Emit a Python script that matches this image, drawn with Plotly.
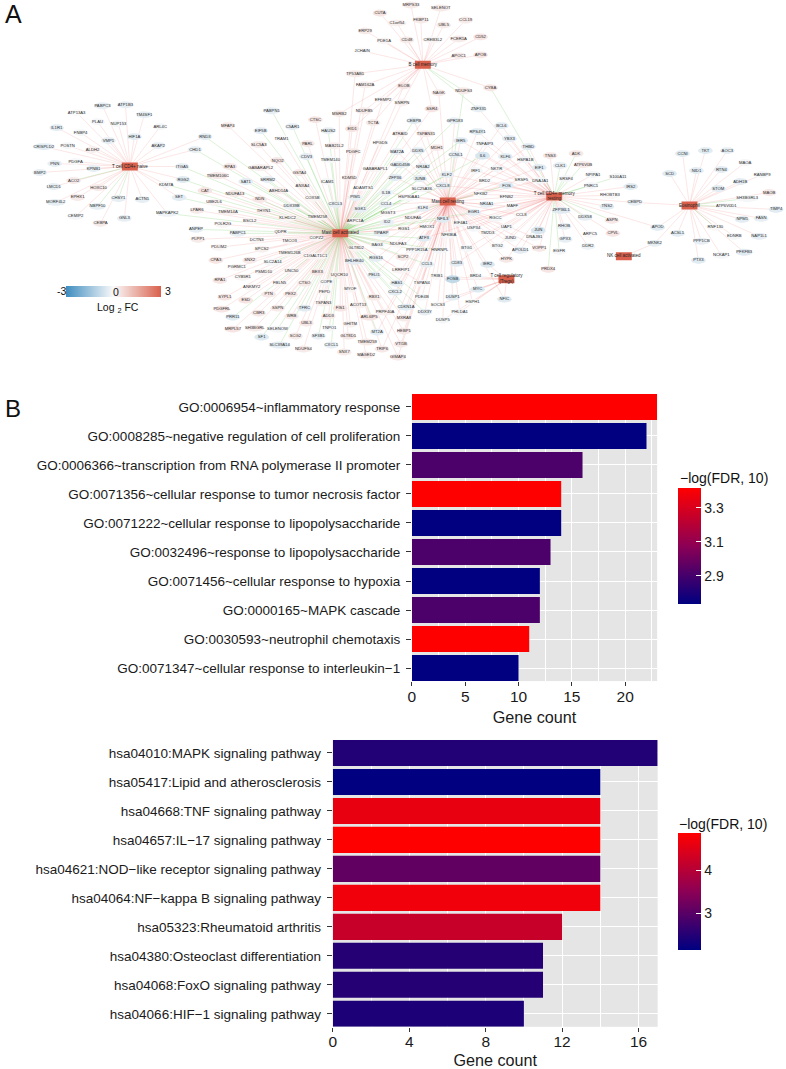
import numpy as np
import plotly.graph_objects as go
from plotly.colors import sample_colorscale

W, H = 786, 1069
FONT = 'Liberation Sans'

# ---------- panel A: network, positions ----------
hub_names = ['B cell memory', 'T cell CD4+ naive', 'Mast cell activated', 'Mast cell resting',
             'T cell CD4+ memory<br>resting', 'Eosinophil', 'NK cell activated', 'T cell regulatory<br>(Tregs)']
hub_keys = ['B', 'N', 'A', 'R', 'M', 'E', 'K', 'T']
hub_x = [421, 126.5, 338, 446, 553, 689, 623, 505]
hub_y = [65, 167, 234, 202, 197, 206, 257, 280]

naive_genes = ['PABPC3', 'ATP1B3', 'ATP13A3', 'TM4SF1', 'PLAU', 'NUP153', 'ARL4C', 'IL1R1', 'HIF1A', 'FNBP4',
               'VMP1', 'POSTN', 'CRISPLD2', 'ALDH2', 'AKAP2', 'PNN', 'PDGFA', 'KPNB1', 'BMP2', 'ACO2',
               'LMCD1', 'HOXC10', 'EPHX1', 'CHSY1', 'ACTN1', 'MORF4L2', 'NBPF10', 'CEMIP2', 'CEBPA', 'GNL3',
               'ITGA5', 'RGS2', 'KDM7A', 'SET', 'MAPKAPK2', 'RND3', 'CHD1']
naive_x = [99, 122, 73, 141, 94, 115, 157, 53, 131, 77,
           105, 64, 40, 89, 155, 51, 72, 90, 36, 70,
           50, 95, 74, 115, 139, 52, 94, 72, 97, 121,
           179, 180, 163, 176, 164, 202, 192]
naive_y = [106, 105, 113, 115, 122, 124, 127, 128, 137, 133,
           141, 146, 147, 150, 146, 164, 162, 169, 173, 181,
           187, 188, 198, 199, 200, 203, 207, 217, 224, 219,
           167, 180, 185, 198, 214, 137, 150]
naive_fc = [-.3, -.3, 0, -.3, -.1, -.1, -.1, -.35, -.35, -.1,
            -.3, -.1, -.35, .2, -.3, -.3, -.05, -.3, -.3, .3,
            -.3, .3, .3, -.3, -.3, -.3, -.3, -.1, .3, -.3,
            -.3, -.4, -.1, -.35, -.2, -.4, -.3]

bcell_genes = ['MRPS33', 'SELENOT', 'CUTA', 'C1orf54', 'FKBP11', 'UBL5', 'CCL19', 'ERP29', 'PDE1A', 'CD48',
               'CREB3L2', 'FCER1A', 'CD52', 'JCHAIN', 'APOC1', 'APOB', 'TP53AB1', 'FAM162A', 'ELOB', 'NAGK',
               'NDUFS3', 'CYBA', 'EFEMP2', 'SNRPN', 'SSR4', 'NDUFB5', 'MSRB2']
bcell_x = [409, 439, 378, 395, 419, 442, 464, 363, 382, 405,
           431, 457, 479, 360, 457, 479, 353, 363, 402, 437,
           462, 489, 381, 400, 430, 362, 337]
bcell_y = [5, 8, 13, 23, 20, 25, 20, 31, 41, 40,
           40, 39, 37, 51, 56, 55, 74, 85, 86, 93,
           91, 88, 100, 103, 109, 111, 114]
bcell_fc = [.3, .3, .4, .2, .3, .3, .3, .3, .1, .3,
            .1, .3, .4, 0, .3, .4, .3, .2, .4, .3,
            .3, .4, .1, .2, .4, .3, .3]

activated_genes = ['C5AR1', 'PABPN1', 'TRAM1', 'MFAP4', 'EIF5B', 'SLC5A3', 'CTSC', 'HAUS2', 'PARL', 'MAB21L2',
                   'HPGDS', 'PDGFC', 'NQO2', 'CDV3', 'TMEM140', 'RPA3', 'GABARAPL2', 'GSTA4', 'KDM5D', 'GABARAPL1',
                   'TMEM106C', 'SAT1', 'SRRM2', 'ICAM1', 'ANXA4', 'CAT', 'NDUFA13', 'ABHD14A', 'ADAMTS1', 'PIM1',
                   'COX5B', 'NDN', 'UBE2L6', 'DDX39B', 'CXCL3', 'THYN1', 'TMEM14A', 'LPAR6', 'BSCL2', 'KLHDC2',
                   'TMEM258', 'ARPC1A', 'POLR2G', 'ANPEP', 'PABPC1', 'QDPR', 'PLPP1', 'DCTN3', 'TMCO3', 'COPZ2',
                   'GLT8D2', 'PDLIM2', 'SPCS2', 'TMEM126B', 'C1GALT1C1', 'BHLHE40', 'CPA3', 'SNX2', 'SLC2A14', 'PGRMC1',
                   'PSMD10', 'UNC50', 'BEX3', 'UQCR10', 'RPA1', 'CYB5R1', 'FBLN5', 'CTSO', 'COPE', 'ANKMY2',
                   'MYOF', 'PTN', 'PEX2', 'PEPD', 'SYPL1', 'ESD', 'RBX1', 'TSPAN3', 'ACOT13', 'PDGFRL',
                   'SSPN', 'FIS1', 'TFRC', 'CBR3', 'WRB', 'ADD3', 'ARL6IP5', 'PRR11', 'MRPL57', 'SH3BGRL',
                   'SELENOW', 'UBL3', 'GHITM', 'TNPO1', 'SF1', 'SCG2', 'SF3B1', 'GLT8D1', 'TMEM259', 'SLC39A14',
                   'CXCL1', 'NDUFS4', 'SNX7', 'MAGED2', 'EID1', 'TCTA', 'SGK1']
activated_x = [290, 269, 279, 225, 258, 256, 313, 326, 305, 332,
               378, 351, 275, 304, 328, 227, 258, 297, 347, 373,
               215, 243, 265, 325, 300, 202, 232, 276, 361, 353,
               310, 257, 211, 289, 333, 261, 225, 194, 247, 285,
               315, 353, 220, 193, 235, 278, 195, 254, 287, 314,
               354, 216, 259, 287, 313, 352, 213, 247, 270, 234,
               261, 289, 315, 337, 217, 240, 277, 302, 324, 249,
               348, 266, 288, 322, 222, 243, 372, 321, 356, 219,
               275, 338, 302, 256, 289, 326, 367, 230, 230, 252,
               275, 304, 348, 327, 259, 293, 316, 346, 365, 277,
               329, 301, 342, 364, 350, 371, 358]
activated_y = [127, 111, 139, 126, 131, 145, 120, 131, 144, 146,
               143, 152, 161, 157, 160, 167, 168, 173, 178, 169,
               176, 182, 180, 182, 186, 191, 194, 191, 188, 198,
               199, 200, 203, 207, 205, 212, 213, 211, 222, 219,
               218, 222, 225, 230, 234, 233, 240, 241, 242, 239,
               249, 248, 250, 254, 257, 262, 261, 261, 263, 268,
               273, 272, 273, 276, 281, 278, 284, 284, 283, 288,
               290, 295, 295, 293, 298, 301, 298, 304, 306, 310,
               309, 309, 309, 314, 317, 317, 318, 318, 330, 329,
               330, 324, 325, 329, 338, 337, 337, 337, 343, 346,
               346, 350, 353, 356, 129, 123, 210]
activated_fc = [-.3, -.3, 0, .3, -.35, .3, .4, -.3, .35, .2,
                .1, .3, .35, -.35, -.05, .35, .2, .3, .3, .1,
                .35, -.35, -.3, -.1, .2, .4, .3, .2, 0, -.25,
                .1, .35, .1, -.2, -.3, .2, .2, .3, .1, .1,
                .1, .1, .1, -.3, -.3, .1, .3, .1, .1, .1,
                .1, .1, .2, .1, .1, -.35, .4, .3, -.1, .1,
                .1, .1, .35, .2, .4, .1, .1, .3, -.1, .1,
                .1, .35, .35, .1, .4, .4, .3, .2, .2, .4,
                .3, .4, -.4, .35, .3, .3, .4, -.4, .4, .3,
                -.1, .35, .2, -.1, -.45, .3, -.3, .35, .3, -.35,
                -.3, .3, .3, .3, .4, .3, -.3]

shared_genes = ['IL1B', 'CCL4', 'MGST3', 'ID2', 'TIPARP', 'BAG3', 'RGS16', 'PELI1', 'HSP90AA1', 'KLF4',
                'SLC25A36', 'NDUFA6', 'RGS1', 'HMOX1', 'NDUFA3', 'PPP1R15A', 'HNRNPL', 'SCP2', 'CCL3', 'LRRFIP1',
                'TSPAN4', 'HAS1', 'CXCL2', 'CDKN1A', 'DDX3Y', 'MXRA8', 'PRPF40A', 'MT2A', 'TRIP6', 'HEBP1',
                'VTI1B', 'GIMAP4', 'PDE4B', 'ATRAID', 'TSPAN31', 'MAT2A', 'DDX5', 'GADD45B', 'ZFP36', 'JUNB',
                'NR4A2', 'MDH1', 'CEBPB', 'GPR183']
shared_x = [384, 384, 386, 385, 379, 375, 374, 372, 407, 421,
            420, 411, 402, 425, 396, 415, 438, 401, 425, 399,
            420, 395, 393, 404, 423, 402, 383, 375, 380, 402,
            399, 396, 420, 398, 424, 395, 416, 398, 393, 418,
            421, 435, 412, 453]
shared_y = [193, 205, 214, 223, 234, 246, 259, 276, 198, 209,
            189, 219, 230, 228, 245, 251, 251, 258, 265, 271,
            284, 284, 293, 308, 313, 319, 313, 333, 350, 332,
            345, 358, 298, 134, 134, 152, 151, 165, 178, 179,
            167, 148, 121, 121]
shared_fc = [-.2, -.25, .05, -.25, -.3, -.1, -.35, -.3, -.05, -.3,
             -.1, .1, .1, .05, .1, -.1, -.1, .3, -.3, .1,
             .05, -.35, -.35, -.35, -.3, .3, .2, -.35, .35, .35,
             .35, .35, -.1, .2, .3, -.3, -.35, -.4, -.4, -.35,
             -.3, .3, -.4, -.3]

triple_genes = ['CXCL8', 'KLF2', 'CCNL1', 'IER5', 'NFIL3', 'ATF3', 'EGR1', 'IL6', 'FOS']
triple_x = [441, 445, 454, 459, 441, 422, 472, 481, 505]
triple_y = [186, 175, 155, 141, 220, 239, 213, 156, 186]
triple_fc = [-.35, -.3, -.35, -.4, -.4, -.4, -.35, -.55, -.45]

both_genes = ['RPS4Y1', 'TNFAIP3', 'BCL6', 'YBX3', 'THBD', 'KLF6', 'HSPA1B', 'IRF1', 'NKTR', 'EIF1',
              'SRSF5', 'BRD2', 'DNAJA1', 'NFKB2', 'EFNB2', 'NR4A1', 'MAFF', 'CCL8', 'RGCC', 'EIF4A1',
              'USP34', 'UAP1', 'TM2D3', 'JUND', 'DNAJB1', 'BTG1', 'BTG2', 'APOLD1', 'VOPP1', 'CD83',
              'HYPK', 'NFKBIA']
both_x = [476, 483, 500, 508, 527, 504, 524, 474, 495, 538,
          520, 483, 539, 479, 505, 485, 511, 520, 494, 459,
          472, 505, 486, 509, 533, 465, 496, 519, 538, 455,
          505, 447]
both_y = [132, 144, 126, 139, 147, 157, 160, 171, 169, 168,
          180, 181, 181, 195, 198, 205, 207, 216, 219, 224,
          229, 228, 234, 239, 238, 249, 247, 251, 249, 264,
          260, 236]
both_fc = [-.4, -.1, -.35, -.35, -.4, -.35, -.1, -.1, -.1, -.4,
           0, 0, -.1, 0, -.05, -.3, -.1, .05, -.1, -.1,
           -.1, -.1, .05, -.1, -.1, -.1, -.1, -.35, .35, -.35,
           .35, -.1]

treg_genes = ['FOSB', 'IER2', 'BRD4', 'MYC', 'DUSP1', 'HSPH1', 'NFIC', 'SOCS3', 'PHLDA1', 'DUSP5', 'TRIB1']
treg_x = [451, 486, 474, 476, 451, 471, 503, 436, 458, 441, 435]
treg_y = [280, 265, 277, 290, 298, 303, 300, 306, 313, 321, 277]
treg_fc = [-.9, -.5, -.1, -.45, -.35, 0, -.4, .05, -.1, -.1, .05]

memory_genes = ['ADK', 'TNS3', 'ATP6V0B', 'CLK1', 'NPIPA1', 'S100A11', 'SRSF4', 'PNRC1', 'IRS2', 'RHOBTB3',
                'TNS2', 'ZFP36L1', 'DDX58', 'ASPN', 'RHOB', 'ARPC5', 'CPVL', 'DDR2', 'JUN', 'GPX3',
                'EGFR', 'PRDX4', 'ZNF331']
memory_x = [575, 549, 582, 559, 592, 617, 565, 590, 630, 609,
            606, 560, 584, 611, 563, 589, 612, 587, 537, 564,
            558, 547, 477]
memory_y = [154, 156, 165, 166, 175, 177, 179, 186, 187, 196,
            207, 211, 218, 221, 227, 235, 234, 247, 231, 240,
            252, 270, 109]
memory_fc = [.35, .35, .3, -.3, -.1, -.1, -.1, -.1, -.4, .05,
             -.4, -.4, -.3, .35, -.3, .05, .4, -.2, -.55, -.3,
             -.1, .4, -.3]

eosin_genes = ['CCNI', 'TKT', 'AOC3', 'MAOA', 'SCD', 'NID1', 'RTN4', 'RANBP9', 'ADH1B', 'STOM',
               'MAOB', 'SH3BGRL3', 'ATP6V0D1', 'TIMP4', 'FASN', 'NPM1', 'RNF130', 'EDNRB', 'NAP1L1', 'PPP1CB',
               'PFKFB3', 'NCKAP1', 'PTX3', 'ACSL1', 'APOD', 'CEBPD', 'MKNK2']
eosin_x = [682, 705, 727, 745, 669, 696, 721, 762, 740, 718,
           769, 747, 726, 776, 761, 742, 715, 734, 759, 701,
           744, 721, 698, 677, 657, 634, 654]
eosin_y = [154, 151, 151, 163, 174, 171, 170, 175, 182, 189,
           193, 199, 207, 210, 219, 220, 228, 237, 237, 242,
           253, 256, 261, 234, 228, 203, 244]
eosin_fc = [-.4, -.4, -.3, -.1, -.4, -.35, -.35, -.1, -.35, -.35,
            .35, -.1, -.05, -.4, -.3, -.35, .05, -.1, -.3, -.3,
            -.4, -.1, -.4, -.35, -.4, -.3, -.3]

group_hubs = {'naive': 'N', 'bcell': 'B', 'activated': 'A', 'shared': 'AR', 'triple': 'ARM',
              'both': 'RM', 'treg': 'RT', 'memory': 'M', 'eosin': 'E'}

# edges that do not follow the group they are listed in
extra_edges = [('RND3', 'A'), ('CHD1', 'A'), ('ITGA5', 'A'), ('RGS2', 'A'), ('SET', 'A'), ('MAPKAPK2', 'A'),
               ('KDM7A', 'A'), ('CYBA', 'M'), ('EFEMP2', 'A'), ('SNRPN', 'A'), ('SSR4', 'A'), ('TP53AB1', 'A'),
               ('FAM162A', 'A'), ('ELOB', 'A'), ('MSRB2', 'A'), ('NDUFB5', 'A'), ('EID1', 'B'), ('TCTA', 'B'),
               ('NAGK', 'R'), ('NDUFS3', 'R'), ('ZNF331', 'B'), ('APOD', 'M'), ('CEBPD', 'M'), ('MKNK2', 'K')]
green_edges = [('ACO2', 'N'), ('NBPF10', 'N'), ('CHSY1', 'N'), ('NDUFS3', 'B'), ('NDUFS3', 'R'), ('CYBA', 'M'),
               ('ADK', 'M'), ('ATP6V0B', 'M'), ('CLK1', 'M'), ('S100A11', 'M'), ('PNRC1', 'M'), ('SRSF4', 'M'),
               ('DDX58', 'M'), ('ASPN', 'M'), ('EGFR', 'M'), ('PRDX4', 'M'), ('SH3BGRL3', 'E'), ('ATP6V0D1', 'E'),
               ('RNF130', 'E'), ('ZNF331', 'B')]

# ---------- panel B: bars ----------
go_terms = ['GO:0006954~inflammatory response', 'GO:0008285~negative regulation of cell proliferation',
            'GO:0006366~transcription from RNA polymerase II promoter',
            'GO:0071356~cellular response to tumor necrosis factor',
            'GO:0071222~cellular response to lipopolysaccharide', 'GO:0032496~response to lipopolysaccharide',
            'GO:0071456~cellular response to hypoxia', 'GO:0000165~MAPK cascade',
            'GO:0030593~neutrophil chemotaxis', 'GO:0071347~cellular response to interleukin\u22121']
go_count = [23, 22, 16, 14, 14, 13, 12, 12, 11, 10]
go_fdr = [3.42, 2.73, 2.92, 3.42, 2.73, 2.92, 2.73, 2.92, 3.42, 2.73]

kegg_terms = ['hsa04010:MAPK signaling pathway', 'hsa05417:Lipid and atherosclerosis',
              'hsa04668:TNF signaling pathway', 'hsa04657:IL\u221217 signaling pathway',
              'hsa04621:NOD\u2212like receptor signaling pathway', 'hsa04064:NF\u2212kappa B signaling pathway',
              'hsa05323:Rheumatoid arthritis', 'hsa04380:Osteoclast differentiation',
              'hsa04068:FoxO signaling pathway', 'hsa04066:HIF\u22121 signaling pathway']
kegg_count = [17, 14, 14, 14, 14, 14, 12, 11, 11, 10]
kegg_fdr = [2.47, 2.14, 4.6, 4.87, 3.1, 4.7, 4.2, 2.5, 2.5, 2.41]

fc_scale = [[0, '#3E8DBF'], [.5, '#FAFAFA'], [1, '#D9604C']]
fdr_scale = [[0, '#000080'], [.5, '#8C0055'], [1, '#FF0000']]


def px(x):
    return x / W


def py(y):
    return 1 - y / H


def ellipse_path(cx, cy, w, h):
    t = np.linspace(0, 2 * np.pi, 19)
    return list(cx + w / 2 * np.cos(t)) + [None], list(cy + h / 2 * np.sin(t)) + [None]


genes, gene_x, gene_y, gene_fc = [], [], [], []
edges = []
groups = [('naive', naive_genes, naive_x, naive_y, naive_fc), ('bcell', bcell_genes, bcell_x, bcell_y, bcell_fc),
          ('activated', activated_genes, activated_x, activated_y, activated_fc),
          ('shared', shared_genes, shared_x, shared_y, shared_fc), ('triple', triple_genes, triple_x, triple_y, triple_fc),
          ('both', both_genes, both_x, both_y, both_fc), ('treg', treg_genes, treg_x, treg_y, treg_fc),
          ('memory', memory_genes, memory_x, memory_y, memory_fc), ('eosin', eosin_genes, eosin_x, eosin_y, eosin_fc)]
for key, names, xs, ys, fcs in groups:
    for name, x, y, fc in zip(names, xs, ys, fcs, strict=True):
        genes.append(name)
        gene_x.append(x)
        gene_y.append(y)
        gene_fc.append(fc)
        edges.extend((name, h) for h in group_hubs[key])
edges.extend(extra_edges)

pos = dict(zip(genes, zip(gene_x, gene_y)))
fc_of = dict(zip(genes, gene_fc))
hub_pos = dict(zip(hub_keys, zip(hub_x, hub_y)))

fig = go.Figure()

# edges first so the nodes sit on them
for colour, want_green in [('rgba(240,110,110,0.22)', False), ('rgba(110,200,90,0.3)', True)]:
    ex, ey = [], []
    for name, hub in edges:
        green = (name, hub) in green_edges or (hub == 'A' and fc_of[name] < 0)
        if green == want_green:
            ex += [pos[name][0], hub_pos[hub][0], None]
            ey += [pos[name][1], hub_pos[hub][1], None]
    fig.add_trace(go.Scatter(x=ex, y=ey, mode='lines', line=dict(color=colour, width=0.8), hoverinfo='skip',
                             showlegend=False, xaxis='x', yaxis='y'))

# one filled trace per colour, nodes are ellipses sized to their label
for fc in sorted(set(gene_fc)):
    ex, ey = [], []
    for name, x, y, f in zip(genes, gene_x, gene_y, gene_fc):
        if f == fc:
            w = max(15, len(name) * 2.8)
            h = 8 if abs(fc) > .5 else 7
            a, b = ellipse_path(x, y, w, h)
            ex += a
            ey += b
    colour = sample_colorscale(fc_scale, [(fc + 3) / 6])[0]
    fig.add_trace(go.Scatter(x=ex, y=ey, mode='lines', fill='toself', fillcolor=colour, line=dict(width=0),
                             hoverinfo='skip', showlegend=False, xaxis='x', yaxis='y'))

hx, hy = [], []
for x, y in zip(hub_x, hub_y):
    hx += [x - 8, x + 8, x + 8, x - 8, x - 8, None]
    hy += [y - 4, y - 4, y + 4, y + 4, y - 4, None]
fig.add_trace(go.Scatter(x=hx, y=hy, mode='lines', fill='toself', fillcolor='#D9604C', line=dict(width=0),
                         hoverinfo='skip', showlegend=False, xaxis='x', yaxis='y'))

fig.add_trace(go.Scatter(x=gene_x, y=gene_y, mode='markers+text', text=genes, textposition='middle center',
                         textfont=dict(family=FONT, size=4.2, color='#2a2a2a'),
                         marker=dict(size=1, color=gene_fc, coloraxis='coloraxis', opacity=0),
                         showlegend=False, xaxis='x', yaxis='y'))
fig.add_trace(go.Scatter(x=hub_x, y=hub_y, mode='text', text=hub_names, textposition='middle center',
                         textfont=dict(family=FONT, size=4.5, color='#222222'), showlegend=False,
                         xaxis='x', yaxis='y'))

fig.add_trace(go.Bar(x=go_count, y=go_terms, orientation='h', width=0.9, showlegend=False,
                     marker=dict(color=go_fdr, coloraxis='coloraxis2', line=dict(width=0)),
                     xaxis='x2', yaxis='y2'))
fig.add_trace(go.Bar(x=kegg_count, y=kegg_terms, orientation='h', width=0.9, showlegend=False,
                     marker=dict(color=kegg_fdr, coloraxis='coloraxis3', line=dict(width=0)),
                     xaxis='x3', yaxis='y3'))


def fdr_bar(cmin, cmax, top, bottom, tickvals, ticktext):
    return dict(colorscale=fdr_scale, cmin=cmin, cmax=cmax,
                colorbar=dict(x=px(677), xanchor='left', xpad=0, y=py(bottom), yanchor='bottom', ypad=0,
                              lenmode='pixels', len=bottom - top, thicknessmode='pixels', thickness=23,
                              outlinewidth=0, tickvals=tickvals, ticktext=ticktext, ticks='inside',
                              tickcolor='white', ticklen=5, tickwidth=1,
                              tickfont=dict(family=FONT, size=14, color='#1a1a1a')))


def bar_xaxis(left, right, x_max, dtick, anchor):
    return dict(domain=[px(left), px(right)], range=[0, x_max], anchor=anchor, tick0=0, dtick=dtick,
                ticks='outside', ticklen=4, tickcolor='#333333', ticklabelstandoff=-3,
                tickfont=dict(family=FONT, size=15.5, color='#1a1a1a'),
                gridcolor='white', gridwidth=1.2, showline=False, zeroline=False,
                minor=dict(tick0=dtick / 2, dtick=dtick, showgrid=True, gridcolor='white', gridwidth=0.5, ticks=''),
                title=dict(text='Gene count', font=dict(family=FONT, size=16.2, color='#1a1a1a'), standoff=7))


def bar_yaxis(top, bottom, anchor):
    return dict(domain=[py(bottom), py(top)], range=[9.45, -0.45], anchor=anchor, type='category', ticks='outside',
                ticklen=5, tickcolor='#333333', ticklabelstandoff=3, tickfont=dict(family=FONT, size=13.5, color='#1a1a1a'),
                gridcolor='white', gridwidth=1.2, showline=False, zeroline=False, automargin=False)


fig.update_layout(
    width=W, height=H, autosize=False, margin=dict(l=0, r=0, t=0, b=0), paper_bgcolor='white', plot_bgcolor='#E5E5E5',
    font=dict(family=FONT), showlegend=False,
    xaxis=dict(domain=[0, 1], range=[0, W], visible=False),
    yaxis=dict(domain=[py(390), 1], range=[390, 0], visible=False),
    xaxis2=bar_xaxis(410, 656.5, 23, 5, 'y2'), yaxis2=bar_yaxis(395, 683, 'x2'),
    xaxis3=bar_xaxis(330.5, 657, 17, 4, 'y3'), yaxis3=bar_yaxis(742, 1029.7, 'x3'),
    coloraxis=dict(colorscale=fc_scale, cmin=-3, cmax=3,
                   colorbar=dict(orientation='h', x=px(62), xanchor='left', xpad=0, y=py(298), yanchor='bottom', ypad=0,
                                 lenmode='pixels', len=95, thicknessmode='pixels', thickness=11,
                                 outlinewidth=0, ticks='', showticklabels=False)),
    coloraxis2=fdr_bar(2.733, 3.418, 489.3, 605.7, [2.9, 3.1, 3.3], ['2.9', '3.1', '3.3']),
    coloraxis3=fdr_bar(2.14, 4.87, 836, 952.7, [3, 4], ['3', '4']),
)
# the network plot must not show the grey panel
fig.add_shape(type='rect', xref='x', yref='y', x0=0, x1=W, y0=0, y1=390, fillcolor='white', line=dict(width=0), layer='below')


def label(text, x, y, size, anchor='center'):
    fig.add_annotation(text=text, x=px(x), y=py(y), xref='paper', yref='paper', showarrow=False, xanchor=anchor,
                       yanchor='middle', font=dict(family=FONT, size=size, color='#111111'))


label('A', 9.5, 14, 25)
label('B', 9.5, 410, 24)
label('-3', 58, 292, 10.5)
label('0', 113, 293, 10.5)
label('3', 165, 292, 10.5)
label('Log <sub>2</sub> FC', 115, 309, 10.5)
label('\u2212log(FDR, 10)', 677, 479, 14, 'left')
label('\u2212log(FDR, 10)', 676, 826, 14, 'left')

fig.write_html("out.html", config={'displayModeBar': False}, post_script="document.body.style.margin='0';")
